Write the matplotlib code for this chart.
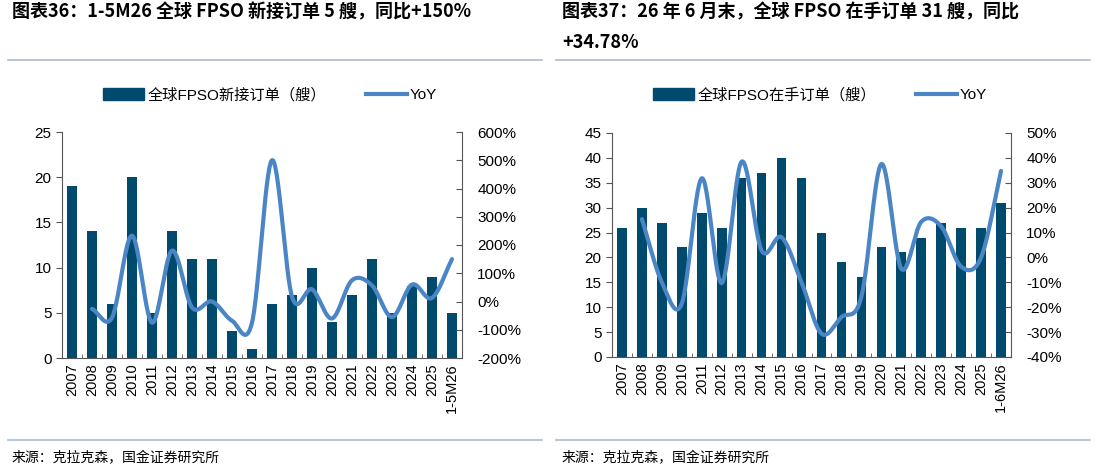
import numpy as np
import matplotlib
matplotlib.use("Agg")
import matplotlib.pyplot as plt
from matplotlib.lines import Line2D
from matplotlib.patches import Patch
from matplotlib.ticker import FuncFormatter

plt.rcParams['font.family'] = ['Liberation Sans', 'Noto Sans CJK SC', 'DejaVu Sans']

# data
years_new = ['2007', '2008', '2009', '2010', '2011', '2012', '2013', '2014', '2015', '2016',
             '2017', '2018', '2019', '2020', '2021', '2022', '2023', '2024', '2025', '1-5M26']
new_orders = [19, 14, 6, 20, 5, 14, 11, 11, 3, 1, 6, 7, 10, 4, 7, 11, 5, 8, 9, 5]
new_yoy = [None, -26, -57, 233, -75, 180, -21, 0, -68, -75, 500, 17, 43, -60, 75, 57, -55, 60, 12.5, 150]

years_hand = ['2007', '2008', '2009', '2010', '2011', '2012', '2013', '2014', '2015', '2016',
              '2017', '2018', '2019', '2020', '2021', '2022', '2023', '2024', '2025', '1-6M26']
hand_orders = [26, 30, 27, 22, 29, 26, 36, 37, 40, 36, 25, 19, 16, 22, 21, 24, 27, 26, 26, 31]
hand_yoy = [None, 15.4, -10, -18.5, 31.8, -10.3, 38.5, 2.8, 8.1, -10, -30.6, -24, -15.8,
            37.5, -4.5, 14.3, 12.5, -3.7, 0, 34.78]

BAR = '#004a6e'
LINE = '#4a86c6'
SEP = '#a9bccf'


def smooth(xs, ys, n=30):
    # Catmull-Rom spline through the points, like Excel's smoothed line
    p = np.column_stack([xs, ys]).astype(float)
    p = np.vstack([p[0] - (p[1] - p[0]), p, p[-1] + (p[-1] - p[-2])])
    out = []
    t = np.linspace(0, 1, n, endpoint=False)[:, None]
    for i in range(1, len(p) - 2):
        p0, p1, p2, p3 = p[i - 1], p[i], p[i + 1], p[i + 2]
        seg = 0.5 * ((2 * p1) + (-p0 + p2) * t + (2 * p0 - 5 * p1 + 4 * p2 - p3) * t ** 2
                     + (-p0 + 3 * p1 - 3 * p2 + p3) * t ** 3)
        out.append(seg)
    out.append(p[-2][None, :])
    out = np.vstack(out)
    return out[:, 0], out[:, 1]


def panel(rect, cats, bars, yoy, ylim, yticks, y2lim, y2ticks, bar_label, leg_x):
    ax = fig.add_axes(rect)
    x = np.arange(len(cats))
    ax.bar(x, bars, width=0.48, color=BAR, zorder=2)
    ax.set_xlim(-0.5, len(cats) - 0.5)
    ax.set_ylim(*ylim)
    ax.set_yticks(yticks)
    ax.set_xticks(x)
    ax.set_xticklabels(cats, rotation=90, fontsize=10.5)
    ax.tick_params(axis='x', length=0, pad=4)
    ax.set_xticks(np.arange(len(cats) + 1) - 0.5, minor=True)
    ax.tick_params(axis='x', which='minor', direction='in', length=3, color='#555555')
    ax.tick_params(axis='y', direction='out', length=4, labelsize=11, color='#555555')
    for s in ['top', 'right']:
        ax.spines[s].set_visible(False)
    for s in ['left', 'bottom']:
        ax.spines[s].set_color('#555555')

    ax2 = ax.twinx()
    xs = [i for i, v in enumerate(yoy) if v is not None]
    ys = [v for v in yoy if v is not None]
    sx, sy = smooth(xs, ys)
    ax2.plot(sx, sy, color=LINE, lw=3, solid_capstyle='round', zorder=3)
    ax2.set_ylim(*y2lim)
    ax2.set_yticks(y2ticks)
    ax2.yaxis.set_major_formatter(FuncFormatter(lambda v, p: f'{v:.0f}%'))
    ax2.tick_params(axis='y', direction='in', length=4, labelsize=11, color='#555555', pad=11)
    for s in ['top', 'left', 'bottom']:
        ax2.spines[s].set_visible(False)
    ax2.spines['right'].set_color('#555555')

    handles = [Patch(facecolor=BAR, edgecolor=BAR),
               Line2D([0], [0], color=LINE, lw=3)]
    fig.legend(handles, [bar_label, 'YoY'], loc='center', bbox_to_anchor=(leg_x, 0.798),
               ncol=2, frameon=False, fontsize=11, handlelength=2.7, handleheight=0.8,
               handletextpad=0.2, columnspacing=2.6)


fig = plt.figure(figsize=(10.95, 4.70), dpi=100)

H = 470.0
W = 1095.0
panel([62 / W, 1 - 358 / H, (462 - 62) / W, (358 - 132) / H], years_new, new_orders, new_yoy,
      (0, 25), range(0, 26, 5), (-200, 600), range(-200, 601, 100),
      '全球FPSO新接订单（艘）', 270 / W)
panel([612 / W, 1 - 357 / H, (1011 - 612) / W, (357 - 133) / H], years_hand, hand_orders, hand_yoy,
      (0, 45), range(0, 46, 5), (-40, 50), range(-40, 51, 10),
      '全球FPSO在手订单（艘）', 820 / W)

title_font = ['Noto Sans CJK SC', 'DejaVu Sans']
fig.text(12 / W, 1 - 12 / H, '图表36：1-5M26 全球 FPSO 新接订单 5 艘，同比+150%',
         ha='left', va='center', fontsize=13, fontweight='bold', style='italic', family=title_font)
fig.text(562 / W, 1 - 12 / H, '图表37：26 年 6 月末，全球 FPSO 在手订单 31 艘，同比',
         ha='left', va='center', fontsize=13, fontweight='bold', style='italic', family=title_font)
fig.text(562 / W, 1 - 42 / H, '+34.78%',
         ha='left', va='center', fontsize=13, fontweight='bold', style='italic', family=title_font)

for x0, x1 in [(8, 542), (556, 1090)]:
    for yy in (60, 440):
        fig.add_artist(Line2D([x0 / W, x1 / W], [1 - yy / H, 1 - yy / H], color=SEP, lw=1.2))

src_font = ['Noto Sans CJK SC', 'DejaVu Sans']
fig.text(12 / W, 1 - 458 / H, '来源：克拉克森，国金证券研究所', ha='left', va='center',
         fontsize=10, family=src_font)
fig.text(562 / W, 1 - 458 / H, '来源：克拉克森，国金证券研究所', ha='left', va='center',
         fontsize=10, family=src_font)

fig.savefig('out.png', dpi=100)
